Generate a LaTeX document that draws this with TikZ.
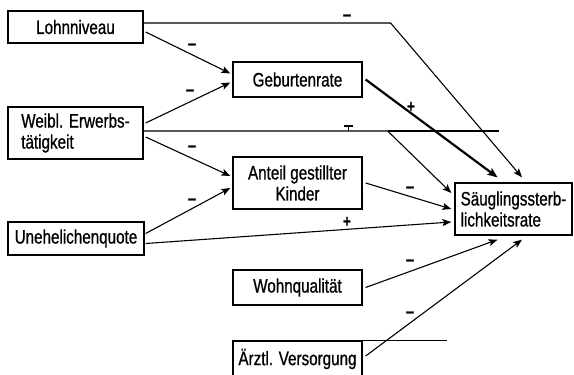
\documentclass[tikz,border=0pt]{standalone}
\usepackage{fontspec}
\setmainfont{Liberation Sans}[FakeStretch=0.78,FakeBold=0.8]
\usetikzlibrary{arrows.meta,calc}
\begin{document}
\begin{tikzpicture}[x=1pt,y=-1pt,
  box/.style={draw,line width=1.3pt,rectangle,inner sep=0pt,minimum height=35pt,font=\fontsize{19.5}{21}\selectfont},
  conn/.style={line width=1.1pt,-{Stealth[length=9pt,width=7pt,inset=2pt]}},
  thickconn/.style={line width=2.2pt,-{Stealth[length=10pt,width=8pt,inset=2pt]}},
  sign/.style={inner sep=0pt,font=\bfseries\fontsize{18}{18}\selectfont},
  plus/.style={inner sep=0pt,font=\bfseries\fontsize{17}{17}\selectfont},
  stray/.style={line width=1.1pt}]
\useasboundingbox (0,0) rectangle (574,375);
\clip (0,0) rectangle (574,375);
% boxes
\node[box,minimum width=135pt,minimum height=32pt] (lohn) at (75.5,27) {Lohnniveau};
\node[box,minimum width=135pt,minimum height=52pt,align=left] (weibl) at (75.5,133) {Weibl. Erwerbs-\\tätigkeit};
\node[box,minimum width=136pt,minimum height=33pt] (uneh) at (76,238.5) {Unehelichenquote};
\node[box,minimum width=129pt] (geb) at (297.5,79.5) {Geburtenrate};
\node[box,minimum width=129pt,minimum height=52pt,align=center] (anteil) at (297.5,183) {Anteil gestillter\\Kinder};
\node[box,minimum width=129pt] (wohn) at (297.5,287.5) {Wohnqualität};
\node[box,minimum width=129pt,minimum height=36pt] (ae) at (297.5,359) {Ärztl. Versorgung};
\node[box,minimum width=117pt,minimum height=52pt,align=left] (saeug) at (513.5,209) {Säuglingssterb-\\lichkeitsrate};
% connectors
\draw[conn] ($(lohn.east)+(2,5)$) -- ($(geb.west)+(-2,-6)$);
\draw[conn] ($(weibl.east)+(2,-10)$) -- ($(geb.west)+(-2,3)$);
\draw[conn] ($(lohn.east)+(0,-4)$) -- ++(247,0) -- ($(saeug.north)+(8.5,-5)$);
\draw[thickconn] ($(geb.east)+(3,0)$) -- ($(saeug.north)+(-16,-5)$);
\draw[conn] ($(weibl.east)+(0,-2)$) -- ++(244,0) coordinate (bend) -- ($(saeug.west)+(-3,-16)$);
\draw[stray] (bend) -- ++(111,0);
\draw[conn] ($(weibl.east)+(2,4)$) -- ($(anteil.west)+(-2,-7)$);
\draw[conn] ($(uneh.east)+(1,-5)$) -- ($(anteil.west)+(-2,5)$);
\draw[conn] ($(anteil.east)+(3,0)$) -- ($(saeug.west)+(-3,0)$);
\draw[conn] ($(uneh.east)+(1,5)$) -- ($(saeug.west)+(-3,13)$);
\draw[conn] ($(wohn.east)+(3,0)$) -- ($(saeug.south)+(-16,4)$);
\draw[conn] ($(ae.east)+(3,-3)$) -- ($(saeug.south)+(8.5,4)$);
\draw[stray] (ae.north east) -- ++(84,0);
% signs
\node[sign] (s1) at (192,47) {−};
\node[sign] (s2) at (190,93) {−};
\node[sign] (s3) at (347,18) {−};
\node[plus] (s4) at (411,107) {+};
\draw[line width=1.5pt] (344,126) -- (353,126) (348.5,126) -- (348.5,131);
\node[sign] (s6) at (192,149) {−};
\node[sign] (s7) at (192,202) {−};
\node[sign] (s8) at (410,190) {−};
\node[plus] (s9) at (347,222) {+};
\node[sign] (s10) at (410,263) {−};
\node[sign] (s11) at (410,315) {−};
\end{tikzpicture}
\end{document}
